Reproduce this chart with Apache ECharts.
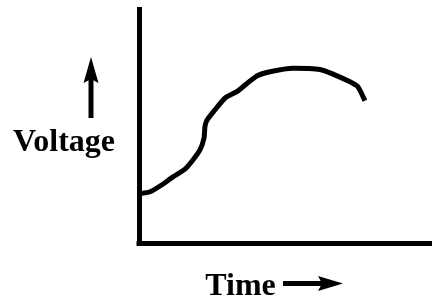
<!DOCTYPE html>
<html>
<head>
<meta charset="utf-8">
<script src="https://cdn.jsdelivr.net/npm/echarts@6/dist/echarts.min.js"></script>
<style>
    html, body { margin: 0; padding: 0; background: #fff; }
    #chart { width: 432px; height: 299px; }
</style>
</head>
<body>
<div id="chart"></div>
<script>
// 曲线数据（时间 0-100，电压 0-100，从图上估读）
const timeValues = [0, 3.8, 7.7, 11.6, 15.7, 18.4, 20.8, 22.2, 22.5, 23.1, 25.9, 29.4, 33.4, 36.2, 40.2, 44.7, 52.6, 61.8, 66.2, 72.0, 74.7, 77.1]
const voltageValues = [21.2, 22.1, 25.0, 28.5, 31.8, 35.7, 40.0, 45.1, 49.9, 52.5, 57.1, 62.2, 64.9, 67.7, 71.6, 73.4, 74.9, 74.4, 72.4, 69.1, 67.0, 61.0]
const xName = 'Time'
const yName = 'Voltage'

document.addEventListener('DOMContentLoaded', function () {
    const myChart = echarts.init(document.getElementById('chart'))

    const fontFamily = '"Liberation Serif", "Times New Roman", serif'
    const axisLine = {
        show: true,
        lineStyle: { color: '#000', width: 5, cap: 'square' }
    }

    const option = {
        animation: false,
        backgroundColor: '#fff',
        grid: { left: 139, right: 0, top: 9.5, bottom: 55.5, containLabel: false, outerBoundsMode: 'none' },
        xAxis: {
            type: 'value',
            min: 0,
            max: 100,
            name: xName,
            nameLocation: 'middle',
            nameGap: 27,
            nameTextStyle: {
                fontFamily: fontFamily,
                fontWeight: 'bold',
                fontSize: 32,
                color: '#000',
                padding: [0, 90, 0, 0]
            },
            axisLine: axisLine,
            axisTick: { show: false },
            axisLabel: { show: false },
            splitLine: { show: false }
        },
        yAxis: {
            type: 'value',
            min: 0,
            max: 100,
            name: yName,
            nameLocation: 'middle',
            nameRotate: 0,
            nameGap: 24,
            nameTextStyle: {
                fontFamily: fontFamily,
                fontWeight: 'bold',
                fontSize: 32,
                color: '#000',
                verticalAlign: 'top'
            },
            axisLine: axisLine,
            axisTick: { show: false },
            axisLabel: { show: false },
            splitLine: { show: false }
        },
        // 箭头
        graphic: [
            { type: 'rect', shape: { x: 88.5, y: 78, width: 5, height: 40 }, style: { fill: '#000' } },
            { type: 'polygon', shape: { points: [[91, 57], [98.5, 83], [91, 79], [83.5, 83]] }, style: { fill: '#000' } },
            { type: 'rect', shape: { x: 283, y: 281, width: 40, height: 5 }, style: { fill: '#000' } },
            { type: 'polygon', shape: { points: [[343, 283.5], [318, 291], [322, 283.5], [318, 276]] }, style: { fill: '#000' } }
        ],
        series: [
            {
                type: 'line',
                data: timeValues.map(function (t, i) { return [t, voltageValues[i]] }),
                smooth: 0.2,
                symbol: 'none',
                lineStyle: { color: '#000', width: 5 }
            }
        ]
    }

    myChart.setOption(option)
})
</script>
</body>
</html>
